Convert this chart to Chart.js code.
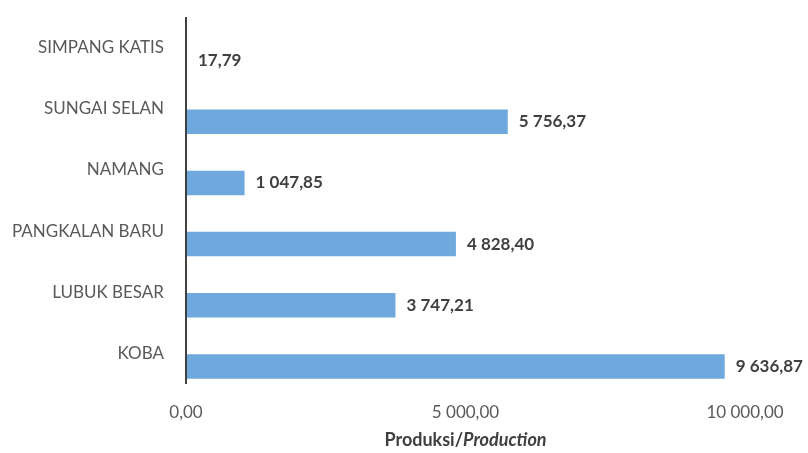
<!DOCTYPE html>
<html>
<head>
<meta charset="utf-8">
<script src="https://cdn.jsdelivr.net/npm/chart.js@4"></script>
<style>
  body { margin: 0; background: #fff; }
  #wrap { width: 808px; height: 453px; }
</style>
</head>
<body>
<div id="wrap"><canvas id="prodChart" width="808" height="453"></canvas></div>
<script>
// categories top to bottom, production values
const districts = ["SIMPANG KATIS", "SUNGAI SELAN", "NAMANG", "PANGKALAN BARU", "LUBUK BESAR", "KOBA"];
const production = [17.79, 5756.37, 1047.85, 4828.40, 3747.21, 9636.87];
const xTicks = [0, 5000, 10000];
const axisTitleA = "Produksi/";
const axisTitleB = "Production";

const FONT = "Lato, 'Open Sans', sans-serif";

// 9636.87 -> "9 636,87"
function fmt(v) {
  let parts = v.toFixed(2).split(".");
  parts[0] = parts[0].replace(/\B(?=(\d{3})+(?!\d))/g, " ");
  return parts[0] + "," + parts[1];
}

// value labels to the right of the bars
const valueLabels = {
  id: "valueLabels",
  afterDatasetsDraw(chart) {
    const ctx = chart.ctx;
    const meta = chart.getDatasetMeta(0);
    ctx.save();
    ctx.font = "bold 17px " + FONT;
    ctx.fillStyle = "#404040";
    ctx.textAlign = "left";
    ctx.textBaseline = "middle";
    meta.data.forEach((bar, i) => {
      ctx.fillText(fmt(production[i]), bar.x + 11, bar.y);
    });
    ctx.restore();
  }
};

// vertical axis line + axis title with italic part
const axisExtras = {
  id: "axisExtras",
  afterDraw(chart) {
    const ctx = chart.ctx;
    const area = chart.chartArea;
    ctx.save();
    ctx.strokeStyle = "#404040";
    ctx.lineWidth = 2;
    ctx.beginPath();
    ctx.moveTo(area.left, area.top - 13);
    ctx.lineTo(area.left, area.bottom - 13);
    ctx.stroke();

    ctx.fillStyle = "#404040";
    ctx.textBaseline = "middle";
    ctx.font = "bold 18px " + FONT;
    const wA = ctx.measureText(axisTitleA).width;
    ctx.font = "italic bold 18px " + FONT;
    const wB = ctx.measureText(axisTitleB).width;
    const cx = (area.left + area.right) / 2;
    const y = 440;
    let x = cx - (wA + wB) / 2;
    ctx.textAlign = "left";
    ctx.font = "bold 18px " + FONT;
    ctx.fillText(axisTitleA, x, y);
    ctx.font = "italic bold 18px " + FONT;
    ctx.fillText(axisTitleB, x + wA, y);
    ctx.restore();
  }
};

const ctx = document.getElementById("prodChart");
const prodChart = new Chart(ctx, {
  type: "bar",
  data: {
    labels: districts,
    datasets: [
      {
        data: production,
        backgroundColor: "#6fa8dc",
        borderWidth: 0,
        categoryPercentage: 1,
        barPercentage: 0.4,
      },
    ],
  },
  options: {
    indexAxis: "y",
    responsive: false,
    animation: false,
    layout: { padding: { left: 0, right: 63, top: 30, bottom: 0 } },
    plugins: {
      legend: { display: false },
      tooltip: { enabled: false },
    },
    scales: {
      x: {
        min: 0,
        max: 10000,
        afterBuildTicks(scale) {
          scale.ticks = xTicks.map((v) => ({ value: v }));
        },
        afterFit(scale) {
          scale.height = 56;
        },
        grid: { display: false },
        border: { display: false },
        ticks: {
          padding: -3,
          color: "#595959",
          font: { family: FONT, size: 17 },
          maxRotation: 0,
          callback: (v) => fmt(v),
        },
      },
      y: {
        afterFit(scale) {
          scale.width = 186;
        },
        grid: { display: false },
        border: { display: false },
        ticks: {
          padding: 14,
          labelOffset: -13,
          color: "#595959",
          font: { family: FONT, size: 17 },
        },
      },
    },
  },
  plugins: [valueLabels, axisExtras],
});
</script>
</body>
</html>
